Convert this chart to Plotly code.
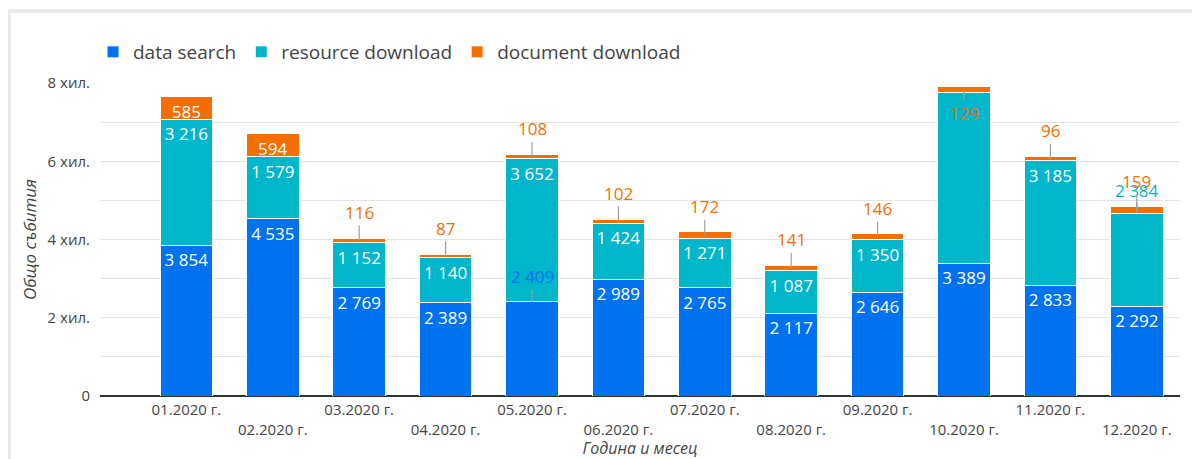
import plotly.graph_objects as go

months = ["01.2020 г.", "02.2020 г.", "03.2020 г.", "04.2020 г.", "05.2020 г.", "06.2020 г.",
          "07.2020 г.", "08.2020 г.", "09.2020 г.", "10.2020 г.", "11.2020 г.", "12.2020 г."]
data_search = [3854, 4535, 2769, 2389, 2409, 2989, 2765, 2117, 2646, 3389, 2833, 2292]
resource_download = [3216, 1579, 1152, 1140, 3652, 1424, 1271, 1087, 1350, 4380, 3185, 2384]
document_download = [585, 594, 116, 87, 108, 102, 172, 141, 146, 129, 96, 159]
y_tick_vals = [0, 1000, 2000, 3000, 4000, 5000, 6000, 7000, 8000]
y_tick_text = ["0", "", "2 хил.", "", "4 хил.", "", "6 хил.", "", "8 хил."]

BLUE = "#0072f0"
TEAL = "#00b6cb"
ORANGE = "#f66d00"
FONT = "Open Sans"
TXT = "#444444"


def fmt(v):
    return f"{v:,}".replace(",", " ")


# which labels sit outside their segment (drawn with leader lines)
ds_out = {4}
rd_out = {11}
rd_hidden = {9}
dd_in = {0, 1}

ds_text = ["" if i in ds_out else fmt(v) for i, v in enumerate(data_search)]
rd_text = ["" if (i in rd_out or i in rd_hidden) else fmt(v) for i, v in enumerate(resource_download)]
dd_text = [fmt(v) if i in dd_in else "" for i, v in enumerate(document_download)]

fig = go.Figure()
common = dict(textposition="inside", insidetextanchor="end", constraintext="none",
              textfont=dict(family=FONT, size=17, color="white"),
              marker_line=dict(color="white", width=1))
fig.add_trace(go.Bar(name="data search", x=months, y=data_search, text=ds_text,
                     marker_color=BLUE, **common))
fig.add_trace(go.Bar(name="resource download", x=months, y=resource_download, text=rd_text,
                     marker_color=TEAL, **common))
fig.add_trace(go.Bar(name="document download", x=months, y=document_download, text=dd_text,
                     marker_color=ORANGE, **common))

annotations = []


def leader(xc, yv, txt, color, ay):
    annotations.append(dict(x=xc, y=yv, xref="x", yref="y", text=txt, showarrow=True,
                            arrowhead=0, arrowwidth=1.2, arrowcolor="#9e9e9e", ax=0, ay=ay,
                            standoff=0, font=dict(family=FONT, size=17, color=color)))


for i in ds_out:
    leader(months[i], data_search[i], fmt(data_search[i]), BLUE, -25)
for i in rd_out:
    leader(months[i], data_search[i] + resource_download[i], fmt(resource_download[i]), TEAL, -23)
for i, v in enumerate(document_download):
    if i in dd_in:
        continue
    base = data_search[i] + resource_download[i]
    leader(months[i], base + v / 2, fmt(v), ORANGE, 24 if i == 9 else -28)

# staggered category labels
x_tick_text = [("<br>" + m) if i % 2 else m for i, m in enumerate(months)]

# page has an 8px body margin; figure is shifted by it
OFF = 8
W, H = 1200 - OFF, 459 - OFF


# plot area in page pixels: x 100..1180, y 83..396
def px_x(p):
    return (p - 100) / 1080


def px_y(p):
    return (396 - p) / 313


shapes = [dict(type="path", xref="paper", yref="paper",
               path=f"M {px_x(9)} {px_y(470)} L {px_x(9)} {px_y(11)} L {px_x(1210)} {px_y(11)}",
               line=dict(color="#e6e8ea", width=3.5))]

fig.update_layout(
    width=W, height=H,
    barmode="stack", bargap=0.39,
    separators=". ",
    plot_bgcolor="white", paper_bgcolor="white",
    margin=dict(l=100 - OFF, r=W - (1180 - OFF), t=83 - OFF, b=H - (396 - OFF), autoexpand=False),
    font=dict(family=FONT, size=14, color=TXT),
    showlegend=True,
    legend=dict(orientation="h", xref="container", yref="container",
                x=(93 - OFF) / W, xanchor="left", y=1 - (52 - OFF) / H, yanchor="middle",
                font=dict(family=FONT, size=19, color=TXT), traceorder="normal",
                itemwidth=30),
    annotations=annotations,
    shapes=shapes,
    xaxis=dict(type="category", range=[-1.0, 11.5], tickvals=months, ticktext=x_tick_text,
               showgrid=False, showline=False, ticks="", tickfont=dict(size=15, color=TXT),
               automargin=False, ticklabelstandoff=3,
               title=dict(text="Година и месец", standoff=9,
                          font=dict(family=FONT, size=16, color=TXT, style="italic"))),
    yaxis=dict(range=[0, 8000], tickvals=y_tick_vals, ticktext=y_tick_text,
               showgrid=True, gridcolor="#e3e3e3", gridwidth=1,
               zeroline=True, zerolinecolor="#333333", zerolinewidth=1.5,
               tickfont=dict(size=15, color=TXT), ticks="outside", ticklen=6,
               tickcolor="rgba(0,0,0,0)", automargin=False,
               title=dict(text="Общо събития", standoff=6,
                          font=dict(family=FONT, size=17, color=TXT, style="italic"))),
)

fig.write_html("out.html")
